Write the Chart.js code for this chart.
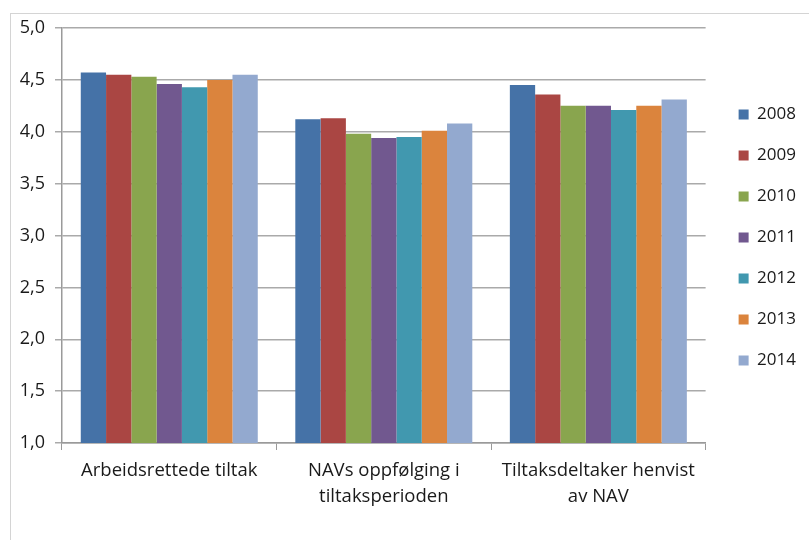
<!DOCTYPE html>
<html>
<head>
<meta charset="utf-8">
<script src="https://cdn.jsdelivr.net/npm/chart.js@4.4.1/dist/chart.umd.min.js"></script>
<style>
    html, body { margin: 0; padding: 0; background: #fff; }
    #wrap { position: relative; width: 809px; height: 540px; overflow: hidden; }
    #frame {
        position: absolute; left: 10px; top: 13px; width: 820px; height: 560px;
        border-top: 1px solid #d4d4d4; border-left: 1px solid #d4d4d4;
    }
    #chart { position: absolute; left: 0; top: 0; }
</style>
</head>
<body>
<div id="wrap">
    <div id="frame"></div>
    <canvas id="chart" width="809" height="540"></canvas>
</div>
<script>
const categories = [
    'Arbeidsrettede tiltak',
    ['NAVs oppfølging i', 'tiltaksperioden'],
    ['Tiltaksdeltaker henvist', 'av NAV']
];
const years = ['2008', '2009', '2010', '2011', '2012', '2013', '2014'];

const values2008 = [4.57, 4.12, 4.45];
const values2009 = [4.55, 4.13, 4.36];
const values2010 = [4.53, 3.98, 4.25];
const values2011 = [4.46, 3.94, 4.25];
const values2012 = [4.43, 3.95, 4.21];
const values2013 = [4.50, 4.01, 4.25];
const values2014 = [4.55, 4.08, 4.31];

const seriesValues = [values2008, values2009, values2010, values2011, values2012, values2013, values2014];
const colors = ['#4572A7', '#AA4643', '#89A54E', '#71588F', '#4198AF', '#DB843D', '#93A9CF'];

const fontFamily = '"Open Sans", Lato, sans-serif';
const axisGray = '#9a9a9a';

// nudge the legend a bit to the right of the plot area
const legendShift = {
    id: 'legendShift',
    afterLayout(chart) {
        chart.legend.left += 9;
        chart.legend.right += 9;
        chart.legend.top += 2;
        chart.legend.bottom += 2;
    }
};

const ctx = document.getElementById('chart').getContext('2d');
new Chart(ctx, {
    type: 'bar',
    data: {
        labels: categories,
        datasets: years.map((year, i) => ({
            label: year,
            data: seriesValues[i],
            backgroundColor: colors[i],
            borderWidth: 0,
            barPercentage: 1,
            categoryPercentage: 0.825
        }))
    },
    options: {
        responsive: false,
        animation: false,
        layout: {
            padding: { left: 10, top: 28, right: 12, bottom: 0 }
        },
        plugins: {
            tooltip: { enabled: false },
            legend: {
                position: 'right',
                fullSize: false,
                labels: {
                    boxWidth: 10,
                    boxHeight: 10,
                    padding: 24,
                    color: '#1a1a1a',
                    font: { family: fontFamily, size: 17 }
                }
            }
        },
        scales: {
            x: {
                grid: {
                    display: true,
                    drawOnChartArea: false,
                    drawTicks: true,
                    tickLength: 7,
                    color: axisGray
                },
                border: { display: true, color: axisGray, width: 1.5 },
                ticks: {
                    color: '#1a1a1a',
                    padding: 8,
                    maxRotation: 0,
                    font: { family: fontFamily, size: 18.5, lineHeight: 1.4 }
                },
                afterFit(scale) {
                    scale.height = 97;
                }
            },
            y: {
                min: 1,
                max: 5,
                ticks: {
                    stepSize: 0.5,
                    color: '#1a1a1a',
                    padding: 10,
                    font: { family: fontFamily, size: 18 },
                    callback: (value) => value.toFixed(1).replace('.', ',')
                },
                grid: {
                    color: '#aaaaaa',
                    lineWidth: 1.5,
                    drawTicks: true,
                    tickLength: 7
                },
                border: { display: true, color: axisGray, width: 1.5 },
                afterFit(scale) {
                    scale.width = 52;
                }
            }
        }
    },
    plugins: [legendShift]
});
</script>
</body>
</html>
